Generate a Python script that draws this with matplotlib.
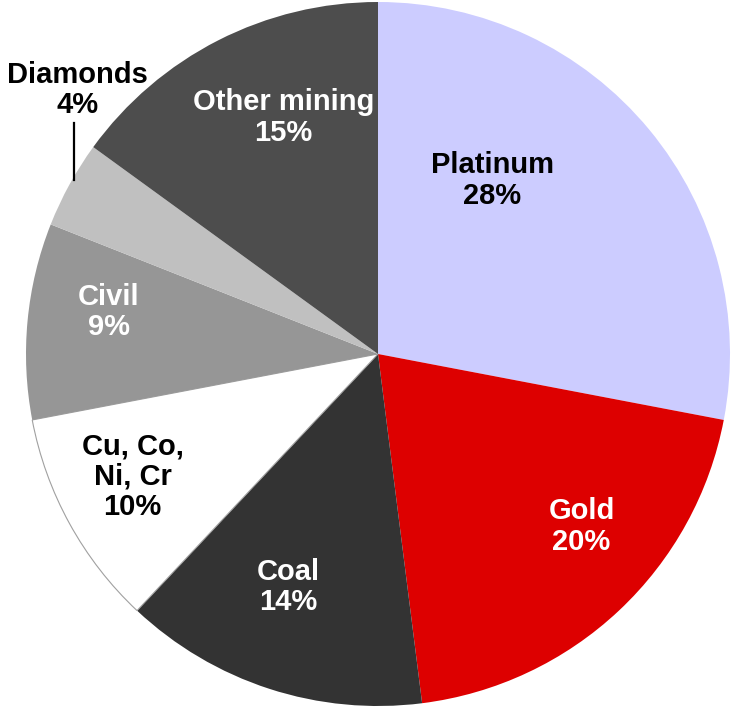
import matplotlib
matplotlib.use("Agg")
import matplotlib.pyplot as plt

# Share of the market by sector (percent), clockwise from 12 o'clock
categories = ["Platinum", "Gold", "Coal", "Cu, Co,\nNi, Cr", "Civil", "Diamonds", "Other mining"]
shares = [28, 20, 14, 10, 9, 4, 15]

colors = ["#CCCCFF", "#DD0000", "#333333", "#FFFFFF", "#969696", "#C0C0C0", "#4D4D4D"]
text_colors = ["black", "white", "white", "black", "white", "black", "white"]
# label centres, in units of the pie radius relative to its centre
label_offsets = [(0.324, 0.493), (0.578, -0.490), (-0.255, -0.663), (-0.697, -0.348),
                 (-0.765, 0.119), (-0.853, 0.750), (-0.269, 0.672)]

W, H = 731, 707
fig = plt.figure(figsize=(W / 100, H / 100), dpi=100)
ax = fig.add_axes([0, 0, 1, 1])

cx, cy, r = 378, H - 354, 352
wedges, _ = ax.pie(shares, colors=colors, startangle=90, counterclock=False,
                   center=(cx, cy), radius=r, frame=True,
                   wedgeprops=dict(linewidth=0))
ax.set_xlim(0, W)
ax.set_ylim(0, H)
ax.set_aspect("equal")
ax.axis("off")

# thin grey rim around the white wedge
wedges[3].set_edgecolor("#A0A0A0")
wedges[3].set_linewidth(0.8)

for name, val, (dx, dy), tc in zip(categories, shares, label_offsets, text_colors):
    ax.text(cx + dx * r, cy + dy * r, f"{name}\n{val}%", ha="center", va="center",
            color=tc, fontsize=21, fontweight="bold", family="Liberation Sans",
            linespacing=1.1)

# leader line for the narrow Diamonds wedge
ax.plot([cx - 0.864 * r, cx - 0.864 * r], [cy + 0.657 * r, cy + 0.493 * r],
        color="black", lw=1.6)

fig.savefig("out.png", dpi=100)
